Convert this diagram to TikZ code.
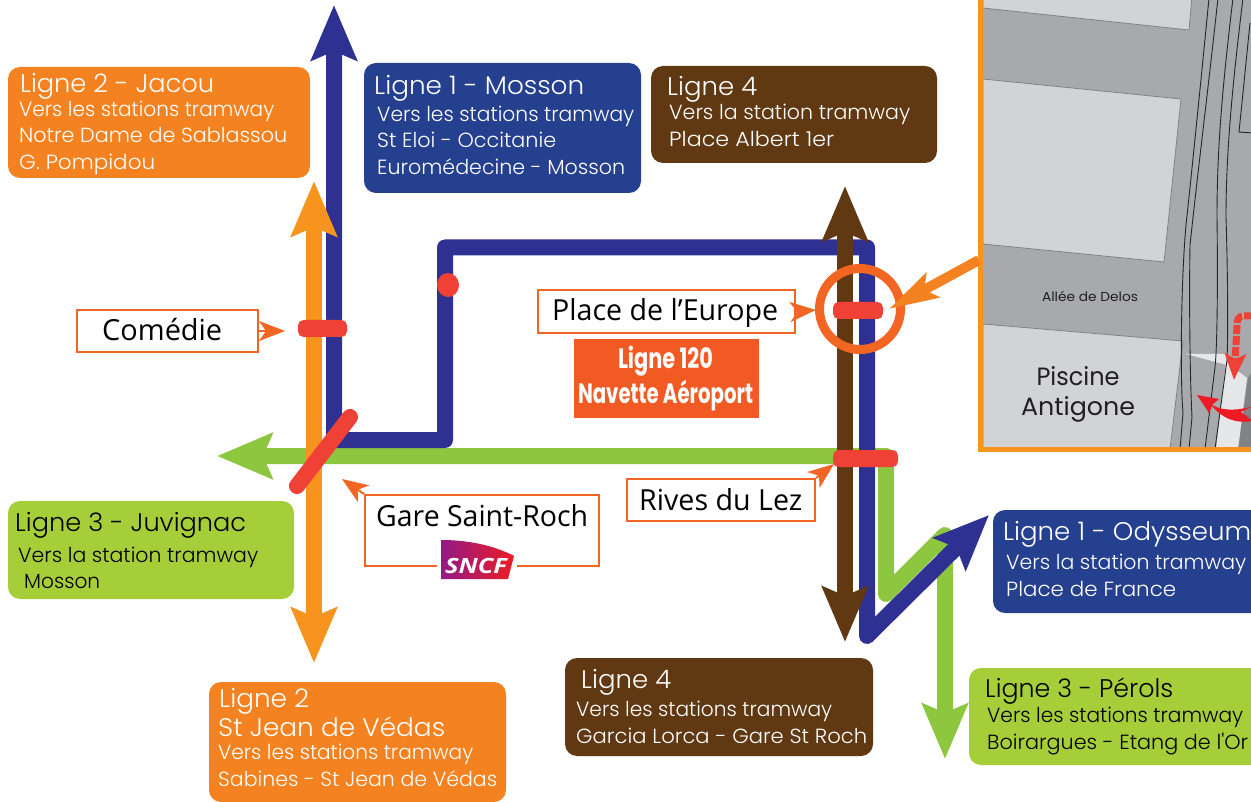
\documentclass[tikz,border=0pt]{standalone}
\usepackage{graphicx}
\usepackage{fontspec}
\usetikzlibrary{arrows.meta,shapes.geometric}
\setmainfont{Poppins Light}
\newfontfamily\gothic{Poppins Light}
\newfontfamily\gothicreg{Poppins}[BoldFont=* Bold]
\newfontfamily\myriad{Open Sans}
\definecolor{cOrange}{HTML}{F58220}
\definecolor{cLineOrange}{HTML}{F7941D}
\definecolor{cBoxBlue}{HTML}{25408F}
\definecolor{cLineBlue}{HTML}{2E3192}
\definecolor{cBrown}{HTML}{603913}
\definecolor{cBoxGreen}{HTML}{A6CE39}
\definecolor{cLineGreen}{HTML}{8DC63F}
\definecolor{cRed}{HTML}{EF4136}
\definecolor{cBright}{HTML}{ED1C24}
\definecolor{cCall}{HTML}{F26522}
\definecolor{cNav}{HTML}{F15A22}
\definecolor{cRoad}{HTML}{A7A9AC}
\definecolor{cBuild}{HTML}{D1D3D4}
\definecolor{cEdge}{HTML}{808285}
\definecolor{cPale}{HTML}{E6E7E8}
\definecolor{cInk}{HTML}{231F20}
\newcommand{\boxn}[6]{%
  \pgfmathsetmacro{\bw}{#4-#2}\pgfmathsetmacro{\bh}{#5-#3}%
  \pgfmathsetmacro{\bx}{(#4+#2)/2}\pgfmathsetmacro{\by}{(#5+#3)/2}%
  \node[linebox,fill=#6,minimum width=\bw pt,minimum height=\bh pt] (#1) at (\bx,\by) {};}
\newcommand{\callbox}[5]{%
  \pgfmathsetmacro{\bw}{#4-#2}\pgfmathsetmacro{\bh}{#5-#3}%
  \pgfmathsetmacro{\bx}{(#4+#2)/2}\pgfmathsetmacro{\by}{(#5+#3)/2}%
  \node[stationbox,minimum width=\bw pt,minimum height=\bh pt] (#1) at (\bx,\by) {};}
\newcommand{\stopbar}[5]{%
  \pgfmathsetmacro{\bw}{#4-#2}\pgfmathsetmacro{\bh}{#5-#3}%
  \pgfmathsetmacro{\bx}{(#4+#2)/2}\pgfmathsetmacro{\by}{(#5+#3)/2}%
  \node[stopmark,minimum width=\bw pt,minimum height=\bh pt] (#1) at (\bx,\by) {};}
% name, x start, x end, baseline, text (fitted to the measured width); optional colour
\newcommand{\ttl}[6][white]{\pgfmathsetmacro{\lw}{#4-#3}\node[txt,text=#1,font=\gothic\fontsize{25.5}{25.5}\selectfont] (#2) at (#3,#5) {\resizebox{\lw pt}{\height}{#6}};}
\newcommand{\sub}[6][white]{\pgfmathsetmacro{\lw}{#4-#3}\node[txt,text=#1,font=\gothic\fontsize{20.5}{20.5}\selectfont] (#2) at (#3,#5) {\resizebox{\lw pt}{\height}{#6}};}
\newcommand{\stn}[5]{\pgfmathsetmacro{\lw}{#3-#2}\node[txt,text=black,font=\myriad\fontsize{29}{29}\selectfont] (#1) at (#2,#4) {\resizebox{\lw pt}{\height}{#5}};}
\tikzset{
  linebox/.style={rounded corners=12pt,draw=none,inner sep=0pt},
  stationbox/.style={draw=cCall,line width=2pt,fill=white,inner sep=0pt},
  stopmark/.style={fill=cRed,rounded corners=5.5pt,inner sep=0pt},
  txt/.style={anchor=base west,inner sep=0pt,text=white},
  metro/.style={line width=16pt,line join=round},
  bighead/.tip={Stealth[length=55pt,width=45pt,inset=9pt]},
  callarrow/.style={draw=cCall,line width=2pt,-{Stealth[length=26pt,width=20pt,inset=7pt,fill=cCall]}},
  track/.style={draw=black!85,line width=0.9pt},
  plot/.style={fill=cBuild,draw=cEdge,line width=0.8pt},
  maptext/.style={inner sep=0pt,anchor=base,text=cInk},
  navtext/.style={inner sep=0pt,anchor=base,text=white,font=\gothicreg\bfseries\fontsize{28}{28}\selectfont},
}
\begin{document}
\begin{tikzpicture}[x=1pt,y=-1pt]
\useasboundingbox (0,0) rectangle (1251,802);
\clip (0,0) rectangle (1251,802);
\fill[white] (0,0) rectangle (1251,802);
% ---- inset map
\fill[cRoad] (980,-5) rectangle (1260,450);
\filldraw[plot] (983,8) -- (1189,30) -- (1192,-3) -- (983,-3) -- cycle;
\filldraw[plot] (983,79) -- (1181,99) -- (1164,262) -- (983,244) -- cycle;
\filldraw[plot] (983,324) -- (1183,341) -- (1170,449) -- (983,449) -- cycle;
\fill[cEdge] (1238,449) -- (1248,378) -- (1253,370) -- (1253,449) -- cycle;
\fill[cPale] (1186,354) -- (1227,354) -- (1227,365) -- cycle;
\fill[cPale] (1226,362) -- (1247,378) -- (1238,449) -- (1216,449) -- cycle;
\draw[track] (1209,-2) .. controls (1202,70) and (1192,170) .. (1186,225) .. controls (1181,280) and (1180,380) .. (1183,413) -- (1180,449);
\draw[track] (1218,-2) .. controls (1208,90) and (1198,170) .. (1190,245) .. controls (1189,300) and (1190,380) .. (1192,417) -- (1189,449);
\draw[track] (1233,-2) .. controls (1222,90) and (1217,150) .. (1217,217) .. controls (1218,290) and (1217,350) .. (1215,367) -- (1205,449);
\draw[track] (1243,-2) .. controls (1233,80) and (1226,150) .. (1226,217) .. controls (1228,280) and (1228,340) .. (1227,360) -- (1215,449);
\draw[track] (1250,23) -- (1239,132) -- (1253,133);
\node[maptext,font=\gothicreg\fontsize{13}{13}\selectfont] (delos) at (1090,302) {\resizebox{96pt}{\height}{Allée de Delos}};
\node[maptext,font=\gothicreg\fontsize{25}{25}\selectfont] (piscine) at (1078,385) {\resizebox{83pt}{\height}{Piscine}};
\node[maptext,font=\gothicreg\fontsize{25}{25}\selectfont] (antigone) at (1078,415) {\resizebox{114pt}{\height}{Antigone}};
\coordinate (dashA) at (1253,316);
\coordinate (dashB) at (1234,380);
\draw[cRed,line width=7pt,dash pattern=on 9pt off 2pt,-{Stealth[length=26pt,width=21pt,inset=5pt,fill=cRed]}] (dashA) -- (1244,316) .. controls (1238,316) and (1237,320) .. (1237,326) -- (dashB);
\fill[cBright] (1197,395) -- (1219,399) -- (1212,405) .. controls (1225,412) and (1240,410) .. (1253,406) -- (1241,412) -- (1253,421) .. controls (1235,424) and (1222,418) .. (1212,406) -- (1209,413) -- cycle;
\draw[cLineOrange,line width=5pt] (980.5,-5) -- (980.5,449.5) -- (1260,449.5);
% ---- info boxes
\boxn{jacou}{8}{67}{310}{178}{cOrange}
\boxn{mosson}{364}{63}{641}{193}{cBoxBlue}
\boxn{albert}{651}{66}{937}{163}{cBrown}
\boxn{juvignac}{8}{501}{294}{599}{cBoxGreen}
\boxn{vedas}{209}{682}{506}{802}{cOrange}
\boxn{garcia}{565}{658}{873}{756}{cBrown}
\boxn{odysseum}{993}{510}{1265}{613}{cBoxBlue}
\boxn{perols}{969}{668}{1265}{765}{cBoxGreen}
\ttl{t1}{20}{214}{93}{Ligne 2 - Jacou}
\sub{t1a}{19}{274}{117}{Vers les stations tramway}
\sub{t1b}{19}{287}{143}{Notre Dame de Sablassou}
\sub{t1c}{19}{155}{170}{G. Pompidou}
\ttl{t2}{374}{584}{95}{Ligne 1 - Mosson}
\sub{t2a}{377}{634}{122}{Vers les stations tramway}
\sub{t2b}{377}{556}{148}{St Eloi - Occitanie}
\sub{t2c}{377}{625}{175}{Euromédecine - Mosson}
\ttl{t3}{667}{757}{96}{Ligne 4}
\sub{t3a}{669}{910}{120}{Vers la station tramway}
\sub{t3b}{669}{834}{147}{Place Albert 1er}
\ttl[black]{t4}{15}{246}{531}{Ligne 3 - Juvignac}
\sub[black]{t4a}{18}{258}{562}{Vers la station tramway}
\sub[black]{t4b}{24}{100}{588}{Mosson}
\ttl{t5}{219}{309}{707}{Ligne 2}
\ttl{t5b}{218}{445}{736}{St Jean de Védas}
\sub{t5c}{218}{473}{759}{Vers les stations tramway}
\sub{t5d}{218}{497}{786}{Sabines - St Jean de Védas}
\ttl{t6}{581}{671}{688}{Ligne 4}
\sub{t6a}{576}{832}{716}{Vers les stations tramway}
\sub{t6b}{576}{867}{743}{Garcia Lorca - Gare St Roch}
\ttl{t7}{1003}{1251}{540}{Ligne 1 - Odysseum}
\sub{t7a}{1006}{1246}{569}{Vers la station tramway}
\sub{t7b}{1006}{1176}{596}{Place de France}
\ttl[black]{t8}{985}{1173}{697}{Ligne 3 - Pérols}
\sub[black]{t8a}{987}{1243}{722}{Vers les stations tramway}
\sub[black]{t8b}{987}{1248}{749}{Boirargues - Etang de l'Or}
% ---- lines
\coordinate (greenW) at (217,456);
\coordinate (greenNE) at (886,456);
\coordinate (greenS) at (886,594);
\coordinate (greenT) at (945,535);
\coordinate (greenEnd) at (945,759);
\draw[metro,draw=cLineGreen,{bighead}-{bighead}] (greenW) -- (greenNE) -- (greenS) -- (greenT) -- (greenEnd);
\coordinate (blueN) at (334,5);
\coordinate (blueA) at (334,440);
\coordinate (blueB) at (445,440);
\coordinate (blueC) at (445,247.5);
\coordinate (blueD) at (867,247.5);
\coordinate (blueE) at (867,636);
\coordinate (blueEnd) at (989,515);
\draw[metro,draw=cLineBlue,{bighead}-{bighead}] (blueN) -- (blueA) -- (blueB) -- (blueC) -- (blueD) -- (blueE) -- (blueEnd);
\coordinate (brownN) at (845,186);
\coordinate (brownS) at (845,642);
\draw[metro,draw=cBrown,{bighead}-{bighead}] (brownN) -- (brownS);
\coordinate (orangeN) at (314,181);
\coordinate (orangeS) at (314,663);
\draw[metro,draw=cLineOrange,{bighead}-{bighead}] (orangeN) -- (orangeS);
% ---- stops
\stopbar{stopComedie}{298}{320}{347}{337}
\stopbar{stopEurope}{833}{302}{883}{319}
\stopbar{stopRives}{833}{450}{898}{467}
\coordinate (gareA) at (297,486);
\coordinate (gareB) at (350,417);
\draw[cRed,line width=16pt,line cap=round] (gareA) -- (gareB);
\node[fill=cRed,ellipse,inner sep=0pt,minimum width=22pt,minimum height=24pt] (stopDot) at (448,285) {};
\node[draw=cCall,line width=9pt,circle,inner sep=0pt,minimum size=81pt] (ring) at (860,309) {};
\coordinate (frameOut) at (979,260);
\coordinate (ringTip) at (889,309);
\draw[draw=cOrange,line width=10pt,-{Stealth[length=49pt,width=27pt,inset=9pt,fill=cOrange]}] (frameOut) -- (ringTip);
% ---- station labels
\callbox{comedie}{77}{310}{258}{352}
\stn{comedieT}{102}{222}{341}{Comédie}
\callbox{europe}{538}{290}{795}{333}
\stn{europeT}{552}{778}{321}{Place de l’Europe}
\callbox{rives}{627}{479}{815}{521}
\stn{rivesT}{639}{802}{510}{Rives du Lez}
\callbox{gare}{365}{495}{599}{566}
\stn{gareT}{376}{588}{526}{Gare Saint-Roch}
\coordinate (tipComedie) at (285,331);
\coordinate (tipEurope) at (816,310);
\coordinate (tipRives) at (834,464);
\coordinate (tipGare) at (342,479);
\draw[callarrow] (comedie.east) -- (tipComedie);
\draw[callarrow] (europe.east) -- (tipEurope);
\draw[callarrow] (rives.north east) -- (tipRives);
\draw[callarrow] (gare.north west) -- (tipGare);
% ---- navette
\node[fill=cNav,inner sep=0pt,minimum width=185pt,minimum height=79pt] (navette) at (666.5,378.5) {};
\node[navtext] (nav1) at (665.5,369) {\resizebox{95pt}{\height}{Ligne 120}};
\node[navtext] (nav2) at (665.5,404) {\resizebox{175pt}{\height}{Navette Aéroport}};
% ---- SNCF logo
\fill[white] (437,552) rectangle (517,581);
\shade[left color=purple!70!blue!90!white,right color=cBright] (441,540) .. controls (470,540) and (495,546) .. (514,556) -- (508,579) -- (441,579) -- cycle;
\node[inner sep=0pt,anchor=base,text=white,font=\myriad\bfseries\itshape\fontsize{21}{21}\selectfont] (sncf) at (476,573) {\resizebox{62pt}{\height}{SNCF}};
\end{tikzpicture}
\end{document}
